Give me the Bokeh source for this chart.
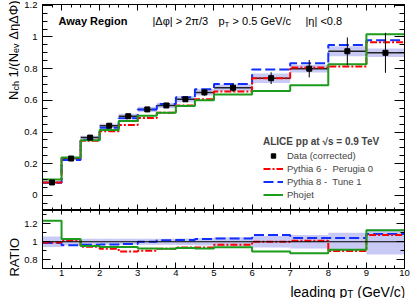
import math
from bokeh.plotting import figure
from bokeh.layouts import column, row
from bokeh.models import (Range1d, LinearAxis, FixedTicker, Label, Legend,
                          LegendItem, Span)
from bokeh.embed import file_html
from bokeh.resources import INLINE

# ---------------- data ----------------
bin_edges = [0.5, 1.0, 1.5, 2.0, 2.5, 3.0, 3.5, 4.0, 4.5, 5.0, 6.0, 7.0, 8.0, 9.0, 10.0]
data_val = [0.082, 0.233, 0.365, 0.440, 0.500, 0.543, 0.568, 0.607, 0.650, 0.680,
            0.740, 0.800, 0.910, 0.900]
data_stat = [0.003, 0.004, 0.005, 0.006, 0.006, 0.007, 0.009, 0.013, 0.020, 0.027,
             0.037, 0.055, 0.087, 0.126]
data_syst_rel = [0.045, 0.035, 0.03, 0.03, 0.03, 0.03, 0.03, 0.03, 0.03, 0.03,
                 0.04, 0.03, 0.035, 0.03]
ratio_pythia6 = [0.99, 1.015, 0.945, 0.92, 0.89, 0.90, 0.92, 0.935, 0.935, 0.965,
                 1.00, 1.01, 0.895, 1.075]
ratio_pythia8 = [0.985, 0.96, 0.965, 0.97, 0.975, 1.00, 1.017, 1.02, 1.03, 1.035,
                 1.075, 1.043, 1.043, 1.088]
ratio_phojet = [1.235, 1.03, 0.953, 0.94, 0.94, 0.925, 0.92, 0.93, 0.925, 0.937,
                0.89, 0.87, 0.91, 1.13]

x_ticks = [1, 2, 3, 4, 5, 6, 7, 8, 9, 10]
x_tick_labels = ["1", "2", "3", "4", "5", "6", "7", "8", "9", "10"]
y_ticks = [0, 0.2, 0.4, 0.6, 0.8, 1, 1.2]
y_tick_labels = ["0", "0.2", "0.4", "0.6", "0.8", "1", "1.2"]
r_ticks = [0.8, 1, 1.2]
r_tick_labels = ["0.8", "1", "1.2"]

legend_labels = ["Data (corrected)", "Pythia 6 -  Perugia 0", "Pythia 8 -  Tune 1", "Phojet"]

# ---------------- derived ----------------
lo = bin_edges[:-1]
hi = bin_edges[1:]
ctr = [(a + b) / 2 for a, b in zip(lo, hi)]
pythia6 = [d * r for d, r in zip(data_val, ratio_pythia6)]
pythia8 = [d * r for d, r in zip(data_val, ratio_pythia8)]
phojet = [d * r for d, r in zip(data_val, ratio_phojet)]
tot_rel = [math.sqrt(s ** 2 + (e / d) ** 2) for s, e, d in zip(data_syst_rel, data_stat, data_val)]

RED = "#ff0000"
BLUE = "#1030ff"
GREEN = "#1c9c1c"
BAND = "#c9c9f5"
FONT = "Liberation Sans"
TICK_FS = "9.5px"

LW = 20            # width of the left title strip
BL, BR = 22, 10    # borders of main panels
FRAME_W = 362
W = BL + FRAME_W + BR
H1, TOP1 = 210, 4
H2, BOT2 = 70, 12
H3 = 18
FRAME_H1 = H1 - TOP1
FRAME_H2 = H2 - BOT2

# text width estimation (Arial / Liberation Sans metrics)
REG = {' ': 278, '(': 333, ')': 333, '/': 278, '.': 278, '-': 333, '<': 584, '>': 584,
       '=': 584, '|': 260, 'A': 667, 'C': 722, 'D': 722, 'E': 667, 'G': 778, 'I': 278,
       'L': 556, 'N': 722, 'O': 778, 'P': 667, 'R': 722, 'T': 611, 'V': 667,
       'a': 556, 'c': 500, 'd': 556, 'e': 556, 'g': 556, 'h': 556, 'i': 222, 'l': 222,
       'n': 556, 'p': 556, 'r': 333, 's': 500, 't': 278, 'u': 556, 'v': 500, 'y': 500,
       'Δ': 668, 'η': 556, 'Φ': 798, 'φ': 650, 'π': 580, '√': 549}
BOLD = {' ': 278, 'A': 722, 'C': 722, 'E': 667, 'I': 278, 'L': 611, 'R': 722, 'T': 611,
        'V': 667, 'a': 556, 'e': 556, 'g': 611, 'i': 278, 'n': 611, 'o': 611, 'p': 611,
        's': 556, 't': 333, 'w': 778, 'y': 556, '.': 278, '=': 584, '√': 549}


def tw(s, size, bold=False):
    t = BOLD if bold else REG
    return sum(t.get(ch, 556) for ch in s) * size / 1000.0


def rich(fig, x, y, runs, dx=0.0, dy=0.0, angle=0.0, align="left"):
    total = sum(tw(r[0], r[1], r[3] if len(r) > 3 else False) for r in runs)
    c = {"left": 0.0, "right": -total, "center": -total / 2}[align]
    for r in runs:
        t, sz, sh = r[0], r[1], r[2]
        b = r[3] if len(r) > 3 else False
        lead = len(t) - len(t.lstrip(' '))
        trail = len(t) - len(t.rstrip(' '))
        core = t.strip(' ')
        c += tw(' ' * lead, sz, b)
        if angle == 0:
            xo, yo = dx + c, dy + sh
        else:
            xo, yo = dx - sh, dy + c
        fig.add_layout(Label(x=x, y=y, x_offset=xo, y_offset=yo, text=core, angle=angle,
                             text_font=FONT, text_font_size=f"{sz}px",
                             text_font_style="bold" if b else "normal",
                             text_align="left", text_baseline="alphabetic",
                             text_color="black"))
        c += tw(core, sz, b) + tw(' ' * trail, sz, b)


def style_axis(ax, ticker, major_in, minor_in, labels=None, standoff=5):
    ax.ticker = ticker
    ax.major_tick_in = major_in
    ax.major_tick_out = 0
    ax.minor_tick_in = minor_in
    ax.minor_tick_out = 0
    ax.axis_line_color = "black"
    ax.major_tick_line_color = "black"
    ax.minor_tick_line_color = "black"
    if labels is None:
        ax.major_label_text_color = None
        ax.major_label_text_font_size = "1px"
        ax.major_label_standoff = 0
    else:
        ax.major_label_overrides = labels
        ax.major_label_text_font = FONT
        ax.major_label_text_font_size = TICK_FS
        ax.major_label_text_color = "black"
        ax.major_label_standoff = standoff


def text_strip(width, height, xmax, ymax):
    f = figure(width=width, height=height, x_range=Range1d(0, xmax),
               y_range=Range1d(0, ymax), x_axis_type=None, y_axis_type=None,
               output_backend="svg", toolbar_location=None, title=None,
               min_border=0, min_border_left=0, min_border_right=0, min_border_top=0,
               min_border_bottom=0)
    f.outline_line_color = None
    f.background_fill_color = "white"
    f.border_fill_color = "white"
    return f


x_minor = [0.5 + 0.25 * k for k in range(39) if (0.5 + 0.25 * k) % 1 != 0]
y_minor = [round(-0.05 + 0.05 * k, 2) for k in range(26) if k % 4 != 1]
r_minor = [0.7, 0.9, 1.1, 1.3]
x_lab = dict(zip(x_ticks, x_tick_labels))
y_lab = dict(zip(y_ticks, y_tick_labels))
r_lab = dict(zip(r_ticks, r_tick_labels))

xr = Range1d(0.5, 10)

# ---------------- top panel ----------------
p1 = figure(width=W, height=H1, x_range=xr, y_range=Range1d(-0.095, 1.205),
            output_backend="svg", toolbar_location=None,
            min_border_left=BL, min_border_right=BR, min_border_top=TOP1, min_border_bottom=0)
p1.grid.visible = False
p1.outline_line_color = "black"
p1.background_fill_color = "white"
p1.border_fill_color = "white"

p1.quad(left=lo, right=hi, bottom=[d * (1 - s) for d, s in zip(data_val, data_syst_rel)],
        top=[d * (1 + s) for d, s in zip(data_val, data_syst_rel)],
        fill_color=BAND, line_color=None)
p1.segment(x0=lo, y0=data_val, x1=hi, y1=data_val, line_color="#222222", line_width=1.5)
r8 = p1.step(x=bin_edges, y=pythia8 + [pythia8[-1]], mode="after", line_color=BLUE,
             line_width=2, line_dash="10 4")
r6 = p1.step(x=bin_edges, y=pythia6 + [pythia6[-1]], mode="after", line_color=RED,
             line_width=2, line_dash="7 2 2 2")
rph = p1.step(x=bin_edges, y=phojet + [phojet[-1]], mode="after", line_color=GREEN,
              line_width=2)
p1.segment(x0=ctr, y0=[d - e for d, e in zip(data_val, data_stat)], x1=ctr,
           y1=[d + e for d, e in zip(data_val, data_stat)], line_color="black", line_width=1)
rd = p1.scatter(x=ctr, y=data_val, marker="square", size=5, fill_color="black",
                line_color="black")

xt = FixedTicker(ticks=x_ticks, minor_ticks=x_minor)
yt = FixedTicker(ticks=y_ticks, minor_ticks=y_minor)
p1.add_layout(LinearAxis(), "above")
p1.add_layout(LinearAxis(), "right")
style_axis(p1.below[0], xt, 6, 3)
style_axis(p1.above[0], xt, 6, 3)
style_axis(p1.left[0], yt, 10, 5, labels=y_lab)
style_axis(p1.right[0], yt, 10, 5)

legend = Legend(items=[LegendItem(label=legend_labels[0], renderers=[rd]),
                       LegendItem(label=legend_labels[1], renderers=[r6]),
                       LegendItem(label=legend_labels[2], renderers=[r8]),
                       LegendItem(label=legend_labels[3], renderers=[rph])],
                location=(221, 10), orientation="vertical", glyph_width=20,
                glyph_height=11, label_height=11, label_width=10, spacing=2, padding=0,
                margin=0, label_standoff=4, border_line_alpha=0, background_fill_alpha=0,
                label_text_font=FONT, label_text_font_size="9.5px",
                title="ALICE pp at √s = 0.9 TeV", title_text_font=FONT,
                title_text_font_style="bold", title_text_font_size="10px", title_standoff=3)
p1.add_layout(legend)

rich(p1, 0.5, 1.099, [("Away Region", 11, 0, True)], dx=16)
rich(p1, 0.5, 1.099, [("|Δφ| > 2π/3", 11, 0)], dx=110)
rich(p1, 0.5, 1.099, [("p", 11, 0), ("T", 8, -3.5), (" > 0.5 GeV/c", 11, 0)], dx=176)
rich(p1, 0.5, 1.099, [("|η| <0.8", 11, 0)], dx=263)

# ---------------- ratio panel ----------------
p2 = figure(width=W, height=H2, x_range=xr, y_range=Range1d(0.70, 1.35),
            output_backend="svg", toolbar_location=None,
            min_border_left=BL, min_border_right=BR, min_border_top=0, min_border_bottom=BOT2)
p2.grid.visible = False
p2.outline_line_color = "black"
p2.background_fill_color = "white"
p2.border_fill_color = "white"
p2.quad(left=lo, right=hi, bottom=[1 - t for t in tot_rel], top=[1 + t for t in tot_rel],
        fill_color=BAND, line_color=None)
p2.add_layout(Span(location=1, dimension="width", line_color="black", line_width=1.2))
p2.step(x=bin_edges, y=ratio_pythia8 + [ratio_pythia8[-1]], mode="after", line_color=BLUE,
        line_width=2, line_dash="10 4")
p2.step(x=bin_edges, y=ratio_pythia6 + [ratio_pythia6[-1]], mode="after", line_color=RED,
        line_width=2, line_dash="7 2 2 2")
p2.step(x=bin_edges, y=ratio_phojet + [ratio_phojet[-1]], mode="after", line_color=GREEN,
        line_width=2)

rt = FixedTicker(ticks=r_ticks, minor_ticks=r_minor)
p2.add_layout(LinearAxis(), "above")
p2.add_layout(LinearAxis(), "right")
style_axis(p2.below[0], xt, 6, 3, labels=x_lab, standoff=1)
style_axis(p2.above[0], xt, 4, 2)
style_axis(p2.left[0], rt, 8, 4, labels=r_lab)
style_axis(p2.right[0], rt, 8, 4)

# ---------------- title strips (frames are aligned with the panels) ----------------
t1 = text_strip(LW, H1, LW, FRAME_H1)     # y title of the top panel
rich(t1, 13, FRAME_H1, [("N", 13, 0), ("ch", 9, -2), (" 1/(N", 13, 0), ("ev", 9, -2),
                        (" ΔηΔΦ)", 13, 0)], angle=math.pi / 2, align="right")
t2 = text_strip(LW, H2, LW, FRAME_H2)     # y title of the ratio panel
rich(t2, 13.5, FRAME_H2 * 0.34, [("RATIO", 13, 0)], angle=math.pi / 2, align="center")
t3 = text_strip(W, H3, FRAME_W, H3)       # x title
rich(t3, FRAME_W + 1, 7, [("leading p", 14, 0), ("T", 10, -2.5), (" (GeV/c)", 14, 0)],
     align="right")
t0 = text_strip(LW, H3, LW, H3)

layout = row(column(t1, t2, t0, spacing=0), column(p1, p2, t3, spacing=0), spacing=0)
open("out.html", "w").write(file_html(layout, INLINE))
